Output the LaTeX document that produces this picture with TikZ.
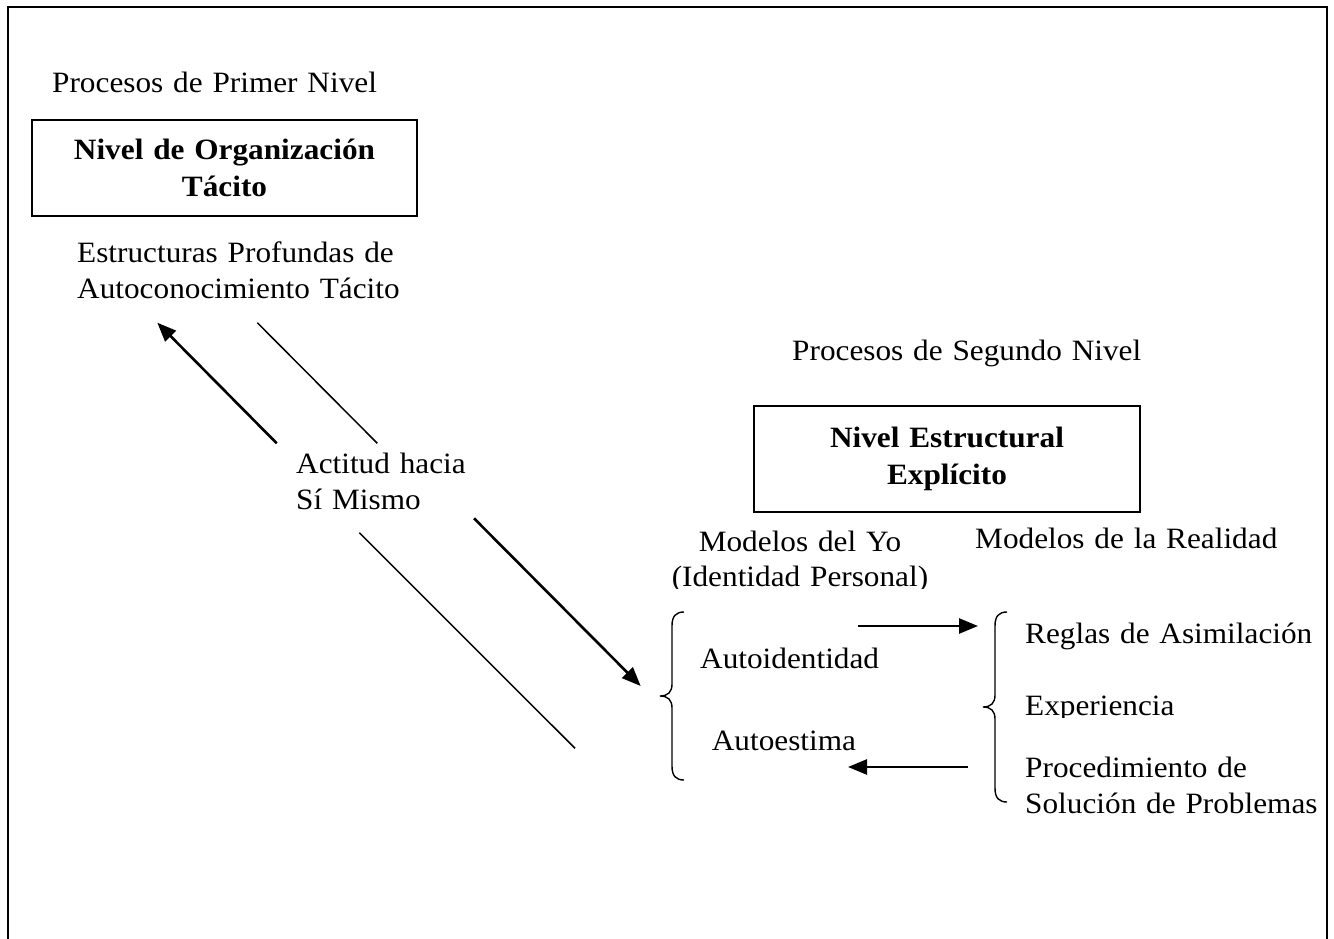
\documentclass[tikz,border=0pt]{standalone}
\usepackage{fontspec}
\setmainfont{Liberation Serif}[FakeStretch=1.06]
\usetikzlibrary{arrows.meta}
\begin{document}
\begin{tikzpicture}[x=1pt,y=-1pt,
  txt/.style={inner sep=0pt, font=\fontsize{29.5}{36}\selectfont, text width=420pt, align=left, anchor=base west},
  ctxt/.style={inner sep=0pt, font=\fontsize{29.5}{35}\selectfont, text width=300pt, align=center, anchor=base},
  levelbox/.style={draw, line width=1.4pt, font=\bfseries\fontsize{29.5}{37}\selectfont, align=center, inner sep=0pt, text width=360pt},
  thinline/.style={line width=1.5pt},
  thickarrow/.style={line width=2.6pt, -{Triangle[length=19pt,width=15pt]}},
  bracepath/.style={line width=1.4pt},
]
\useasboundingbox (0,0) rectangle (1334,939);
% outer frame (bottom edge cut off)
\draw[line width=1.6pt] (8,939) -- (8,7) -- (1327,7) -- (1327,939);

% left column
\node[txt] (p1) at (52,93) {Procesos de Primer Nivel};
\node[levelbox, minimum width=385pt, minimum height=96pt] (box1) at (224.5,168) {Nivel de Organización\\Tácito};
\node[txt] (estr) at (77,262) {Estructuras Profundas de\\Autoconocimiento Tácito};
\node[txt] (actitud) at (296,473) {Actitud hacia\\Sí Mismo};

% diagonal connectors
\coordinate (a1s) at (276.7,443.3); \coordinate (a1e) at (157.3,322.7);
\coordinate (l2s) at (257.3,322.7); \coordinate (l2e) at (377.3,443.3);
\coordinate (l3s) at (359.3,532.7); \coordinate (l3e) at (575,748.3);
\coordinate (a4s) at (474,518.3);   \coordinate (a4e) at (640.7,686);
\draw[thickarrow] (a1s) -- (a1e);
\draw[thinline] (l2s) -- (l2e);
\draw[thinline] (l3s) -- (l3e);
\draw[thickarrow] (a4s) -- (a4e);

% right column
\node[txt] (p2) at (792,360) {Procesos de Segundo Nivel};
\node[levelbox, minimum width=386pt, minimum height=106pt] (box2) at (947,459) {Nivel Estructural\\Explícito};

\begin{scope}
  \clip (600,500) rectangle (960,588);
  \node[ctxt] (yo) at (800,551.7) {Modelos del Yo\\(Identidad Personal)};
\end{scope}
\node[txt] (realidad) at (975,548.3) {Modelos de la Realidad};

% left brace
\draw[bracepath] (684,612) .. controls (676,612) and (672,616) .. (672,626) -- (672,684)
  .. controls (672,692) and (668,696) .. (660,696)
  .. controls (668,696) and (672,700) .. (672,708) -- (672,766)
  .. controls (672,776) and (676,780) .. (684,780);
\node[txt] (autoid) at (700,668.3) {Autoidentidad};
\node[txt] (autoest) at (711.7,750) {Autoestima};

% horizontal arrows
\coordinate (h1s) at (858,626); \coordinate (h1e) at (978,626);
\coordinate (h2s) at (968,767); \coordinate (h2e) at (848,767);
\draw[thickarrow] (h1s) -- (h1e);
\draw[thickarrow] (h2s) -- (h2e);

% right brace
\draw[bracepath] (1007,612) .. controls (999,612) and (995,616) .. (995,626) -- (995,695)
  .. controls (995,703) and (991,707) .. (983,707)
  .. controls (991,707) and (995,711) .. (995,719) -- (995,788)
  .. controls (995,798) and (999,802) .. (1007,802);
\node[txt] (reglas) at (1025,643.3) {Reglas de Asimilación};
\begin{scope}
  \clip (1010,670) rectangle (1320,717);
  \node[txt] (exper) at (1025,715.5) {Experiencia};
\end{scope}
\node[txt] (proc) at (1025,777) {Procedimiento de\\Solución de Problemas};
\end{tikzpicture}
\end{document}
